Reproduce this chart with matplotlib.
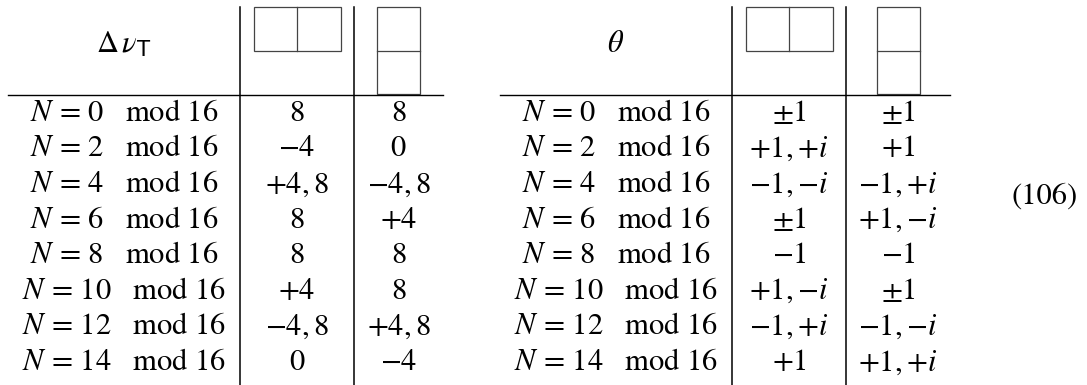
import matplotlib.pyplot as plt
from matplotlib.patches import Rectangle

plt.rcParams["mathtext.fontset"] = "custom"
plt.rcParams["mathtext.rm"] = "STIXGeneral"
plt.rcParams["mathtext.it"] = "STIXGeneral:italic"
plt.rcParams["mathtext.sf"] = "DejaVu Sans"
plt.rcParams["mathtext.fallback"] = "stix"
plt.rcParams["font.family"] = "STIXGeneral"

# table contents
n_values = [0, 2, 4, 6, 8, 10, 12, 14]
dnu_sym = ["8", "-4", "+4,8", "8", "8", "+4", "-4,8", "0"]
dnu_anti = ["8", "0", "-4,8", "+4", "8", "8", "+4,8", "-4"]
theta_sym = [r"\pm1", "+1,{+}i", "-1,{-}i", r"\pm1", "-1", "+1,{-}i", "-1,{+}i", "+1"]
theta_anti = [r"\pm1", "+1", "-1,{+}i", "+1,{-}i", "-1", r"\pm1", "-1,{-}i", "+1,{+}i"]
headers = [r"$\Delta\,\nu_{\mathsf{T}}$", r"$\theta$"]
eq_label = "(106)"

W, H = 1087, 385
FS = 22
ROW0, ROW_STEP = 114, 35.6
RULE_Y = 95
TOP = 7

# layout of the two sub-tables: left edge, two column rules, right edge
tables = [
    dict(x0=8, v1=240, v2=354, x1=443, cols=(dnu_sym, dnu_anti), hdr=headers[0]),
    dict(x0=500, v1=732, v2=846, x1=950, cols=(theta_sym, theta_anti), hdr=headers[1]),
]

fig = plt.figure(figsize=(W / 100, H / 100), dpi=100)
ax = fig.add_axes([0, 0, 1, 1])
ax.set_xlim(0, W)
ax.set_ylim(H, 0)
ax.axis("off")


def young(ax, x, y, w, h, horizontal):
    ec = "#444444"
    ax.add_patch(Rectangle((x, y), w, h, fill=False, ec=ec, lw=0.9))
    if horizontal:
        ax.plot([x + w / 2, x + w / 2], [y, y + h], color=ec, lw=0.9)
    else:
        ax.plot([x, x + w], [y + h / 2, y + h / 2], color=ec, lw=0.9)


for t in tables:
    x0, v1, v2, x1 = t["x0"], t["v1"], t["v2"], t["x1"]
    ax.plot([x0, x1], [RULE_Y, RULE_Y], color="black", lw=1.0)
    for v in (v1, v2):
        ax.plot([v, v], [TOP, H], color="black", lw=1.1)

    c0 = (x0 + v1) / 2
    c1 = (v1 + v2) / 2
    c2 = (v2 + x1) / 2
    ax.text(c0, 45, t["hdr"], fontsize=FS, ha="center", va="center")

    # Young diagram headers
    young(ax, c1 - 43.5, TOP, 87, 44, True)
    young(ax, c2 - 21.5, TOP, 43, 87, False)

    for i, n in enumerate(n_values):
        y = ROW0 + i * ROW_STEP
        ax.text(c0, y, rf"$N\,=\,{n}\quad\mathrm{{mod}}\ 16$", fontsize=FS,
                ha="center", va="center")
        ax.text(c1, y, f"${t['cols'][0][i]}$", fontsize=FS, ha="center", va="center")
        ax.text(c2, y, f"${t['cols'][1][i]}$", fontsize=FS, ha="center", va="center")

ax.text(1045, 197, eq_label, fontsize=FS, ha="center", va="center")

fig.savefig("out.png", dpi=100)
